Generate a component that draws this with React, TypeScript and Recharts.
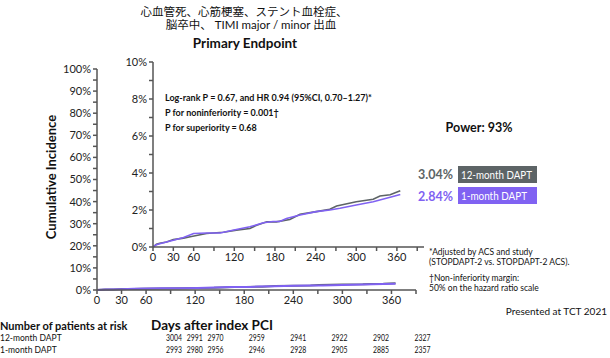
import { LineChart, Line, XAxis, YAxis } from "recharts";

// Kaplan-Meier curves (days, cumulative %)
const twelveDays = [0, 5, 10, 20, 30, 45, 55, 79, 104, 123, 143, 153, 168, 182, 202, 217, 241, 261, 271, 300, 325, 335, 350, 365];
const twelveValues = [0, 0.15, 0.2, 0.27, 0.4, 0.48, 0.55, 0.73, 0.8, 0.91, 1.0, 1.18, 1.36, 1.36, 1.49, 1.77, 1.91, 2.04, 2.22, 2.45, 2.58, 2.76, 2.82, 3.04];
const oneDays = [0, 5, 10, 30, 45, 60, 79, 99, 123, 143, 163, 177, 187, 197, 217, 241, 261, 276, 300, 325, 350, 365];
const oneValues = [0, 0.12, 0.18, 0.36, 0.51, 0.73, 0.76, 0.76, 0.95, 1.09, 1.31, 1.38, 1.38, 1.54, 1.73, 1.91, 2.0, 2.09, 2.27, 2.45, 2.69, 2.84];

const xTicks = [0, 30, 60, 90, 120, 150, 180, 210, 240, 270, 300, 330, 360, 390];
const xLabelled = [0, 30, 60, 120, 180, 240, 300, 360];
const outerYTicks = [0, 5, 10, 15, 20, 25, 30, 35, 40, 45, 50, 55, 60, 65, 70, 75, 80, 85, 90, 95, 100];
const innerYTicks = [0, 1, 2, 3, 4, 5, 6, 7, 8, 9, 10];

const riskDays = [0, 30, 60, 120, 180, 240, 300, 360];
const risk12 = [3004, 2991, 2970, 2959, 2941, 2922, 2902, 2327];
const risk1 = [2993, 2980, 2956, 2946, 2928, 2905, 2885, 2357];

const twelveData = twelveDays.map((d, i) => ({ day: d, v: twelveValues[i] }));
const oneData = oneDays.map((d, i) => ({ day: d, v: oneValues[i] }));

const GRAY = "#5d6466";
const PURPLE = "#8062f2";
const AXIS = "#555";
const FONT = "Lato, 'Noto Sans CJK JP', sans-serif";
const tick = { fontSize: 11, fill: "#222", fontFamily: FONT };

const xFmt = (v: number) => (xLabelled.includes(v) ? String(v) : "");

export default function App() {
  return (
    <div style={{ position: "absolute", left: 0, top: 0, width: 610, height: 358, background: "#fff", fontFamily: FONT }}>
      {/* outer chart, full 0-100% scale */}
      <div style={{ position: "absolute", left: 0, top: 0 }}>
        <LineChart width={610} height={358} margin={{ top: 69, right: 194, bottom: 48, left: 57 }}>
          <XAxis
            type="number"
            dataKey="day"
            domain={[0, 390]}
            ticks={xTicks}
            tickFormatter={xFmt}
            tick={tick}
            tickSize={4}
            height={20}
            stroke={AXIS}
            strokeWidth={1.5}
            allowDuplicatedCategory={false}
          />
          <YAxis
            type="number"
            domain={[0, 100]}
            ticks={outerYTicks}
            tickFormatter={(v: number) => (v % 10 === 0 ? `${v}%` : "")}
            tick={tick}
            tickSize={4}
            width={40}
            stroke={AXIS}
            strokeWidth={1.5}
            interval={0}
          />
          <Line data={twelveData} dataKey="v" type="linear" stroke={GRAY} strokeWidth={2} dot={false} isAnimationActive={false} />
          <Line data={oneData} dataKey="v" type="linear" stroke={PURPLE} strokeWidth={2} dot={false} isAnimationActive={false} />
        </LineChart>
      </div>

      {/* inner zoomed chart, 0-10% */}
      <div style={{ position: "absolute", left: 0, top: 0 }}>
        <LineChart width={610} height={358} margin={{ top: 62, right: 186, bottom: 91, left: 113 }}>
          <XAxis
            type="number"
            dataKey="day"
            domain={[0, 400]}
            ticks={xTicks}
            tickFormatter={xFmt}
            tick={tick}
            tickSize={4}
            height={20}
            stroke={AXIS}
            strokeWidth={1.5}
            allowDuplicatedCategory={false}
          />
          <YAxis
            type="number"
            domain={[0, 10]}
            ticks={innerYTicks}
            tickFormatter={(v: number) => (v % 2 === 0 ? `${v}%` : "")}
            tick={tick}
            tickSize={4}
            width={40}
            stroke={AXIS}
            strokeWidth={1.5}
            interval={0}
          />
          <Line data={twelveData} dataKey="v" type="linear" stroke={GRAY} strokeWidth={1.6} dot={false} isAnimationActive={false} />
          <Line data={oneData} dataKey="v" type="linear" stroke={PURPLE} strokeWidth={1.6} dot={false} isAnimationActive={false} />
        </LineChart>
      </div>

      {/* texts */}
      <svg width={610} height={358} style={{ position: "absolute", left: 0, top: 0, pointerEvents: "none" }} fontFamily={FONT}>
        <text x={244} y={16} textAnchor="middle" fontSize={11.5} fill="#111">心血管死、心筋梗塞、ステント血栓症、</text>
        <text x={251} y={29} textAnchor="middle" fontSize={11.5} fill="#111">脳卒中、 TIMI major / minor 出血</text>
        <text x={245} y={48} textAnchor="middle" fontSize={13.5} fontWeight={700} fill="#111">Primary Endpoint</text>
        <text x={56} y={177} textAnchor="middle" fontSize={13} fontWeight={700} fill="#111" transform="rotate(-90 56 177)">Cumulative Incidence</text>

        <text x={165} y={101} fontSize={9} fontWeight={700} fill="#111">Log-rank P = 0.67, and HR 0.94 (95%CI, 0.70–1.27)*</text>
        <text x={165} y={116} fontSize={9} fontWeight={700} fill="#111">P for noninferiority = 0.001†</text>
        <text x={165} y={131} fontSize={9} fontWeight={700} fill="#111">P for superiority = 0.68</text>

        <text x={479} y={132} textAnchor="middle" fontSize={12.5} fontWeight={700} fill="#111">Power: 93%</text>

        <text x={453} y={179} textAnchor="end" fontSize={12.5} fontWeight={700} fill={GRAY}>3.04%</text>
        <rect x={458} y={166} width={79} height={17} fill={GRAY} />
        <text x={461} y={179} fontSize={11} fill="#fff" textLength={71} lengthAdjust="spacingAndGlyphs">12-month DAPT</text>
        <text x={453} y={201} textAnchor="end" fontSize={12.5} fontWeight={700} fill={PURPLE}>2.84%</text>
        <rect x={458} y={187} width={79} height={17} fill={PURPLE} />
        <text x={461} y={200} fontSize={11} fill="#fff" textLength={66} lengthAdjust="spacingAndGlyphs">1-month DAPT</text>

        <text x={429} y={255} fontSize={8.5} fill="#111">*Adjusted by ACS and study</text>
        <text x={429} y={265} fontSize={8.5} fill="#111">(STOPDAPT-2 vs. STOPDAPT-2 ACS).</text>
        <text x={429} y={281} fontSize={8.5} fill="#111">{"\u2020Non-inferiority margin:"}</text>
        <text x={429} y={291} fontSize={8.5} fill="#111">50% on the hazard ratio scale</text>

        <text x={607} y={315} textAnchor="end" fontSize={10} fill="#111">Presented at TCT 2021</text>

        <text x={212} y={330} textAnchor="middle" fontSize={13.5} fontWeight={700} fill="#111">Days after index PCI</text>
        <text x={0} y={330} fontSize={11} fontWeight={700} fill="#111">Number of patients at risk</text>
        <text x={0} y={341} fontSize={8.5} fill="#111">12-month DAPT</text>
        <text x={0} y={353} fontSize={8.5} fill="#111">1-month DAPT</text>
        {riskDays.map((d, i) => (
          <text key={`a${d}`} x={166 + d * 0.69} y={341} fontSize={8.5} fill="#111" textLength={16} lengthAdjust="spacingAndGlyphs">{risk12[i]}</text>
        ))}
        {riskDays.map((d, i) => (
          <text key={`b${d}`} x={166 + d * 0.69} y={353} fontSize={8.5} fill="#111" textLength={16} lengthAdjust="spacingAndGlyphs">{risk1[i]}</text>
        ))}
      </svg>
    </div>
  );
}
